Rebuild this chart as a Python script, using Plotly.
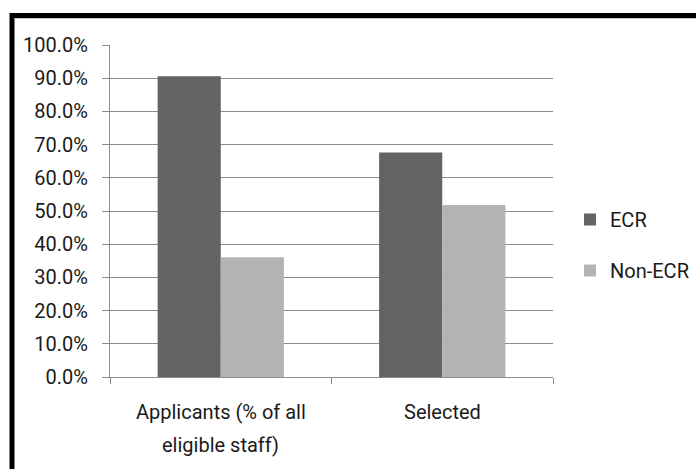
import plotly.graph_objects as go

# Share of staff by career stage
categories = ["Applicants (% of all<br>eligible staff)", "Selected"]
series_names = ["ECR", "Non-ECR"]
ecr_values = [0.906, 0.676]
non_ecr_values = [0.361, 0.518]
y_ticks = [i / 10 for i in range(11)]

colors = {"ECR": "#636363", "Non-ECR": "#b3b3b3"}
font_family = "Liberation Sans Narrow, Roboto, sans-serif"
text_color = "#1a1a1a"
grid_color = "#8c8c8c"

W, H = 696, 469
L, R, T, B = 110, 143, 45, 92
plot_w = W - L - R
plot_h = H - T - B


def px_x(px):
    return (px - L) / plot_w


def px_y(py):
    return (H - B - py) / plot_h


fig = go.Figure()
for name, vals in zip(series_names, [ecr_values, non_ecr_values]):
    fig.add_trace(go.Bar(
        x=categories, y=vals, name=name, legendgroup=name,
        marker=dict(color=colors[name], line=dict(width=0)),
    ))

# category labels, one annotation per line so the line spacing stays open
annotations = []
for cat in categories:
    for i, line in enumerate(cat.split("<br>")):
        annotations.append(dict(
            x=cat, xref="x", y=0, yref="paper",
            text=line, showarrow=False,
            xanchor="center", yanchor="middle",
            yshift=-(35 + 33 * i),
            font=dict(size=20, color=text_color),
        ))

fig.update_layout(
    width=W, height=H,
    margin=dict(l=L, r=R, t=T, b=B, pad=0, autoexpand=False),
    paper_bgcolor="white", plot_bgcolor="white",
    barmode="group", bargap=0.43, bargroupgap=0,
    font=dict(family=font_family, size=20, color=text_color),
    showlegend=True,
    legend=dict(
        x=px_x(570), xanchor="left",
        y=px_y(200), yanchor="top",
        traceorder="grouped", tracegroupgap=22,
        font=dict(size=20, color=text_color),
        bgcolor="rgba(0,0,0,0)",
    ),
    xaxis=dict(
        showline=True, linecolor=grid_color, linewidth=1,
        ticks="outside", tickson="boundaries", ticklen=6,
        tickcolor=grid_color, showgrid=False,
        showticklabels=False,
    ),
    yaxis=dict(
        range=[0, 1], tickvals=y_ticks, tickformat=".1%",
        showline=True, linecolor=grid_color, linewidth=1,
        showgrid=True, gridcolor=grid_color, gridwidth=1,
        ticks="outside", ticklen=7, tickcolor=grid_color,
        zeroline=False,
        tickfont=dict(size=20, color=text_color),
        ticklabelstandoff=10,
    ),
    annotations=annotations,
    shapes=[
        # heavy frame around the chart, running off the right and bottom edges
        dict(type="rect", xref="paper", yref="paper",
             x0=px_x(12), x1=px_x(720), y0=px_y(500), y1=px_y(15.5),
             line=dict(color="black", width=5), fillcolor="rgba(0,0,0,0)",
             layer="above"),
        dict(type="line", xref="paper", yref="paper",
             x0=px_x(14.5), x1=px_x(720), y0=px_y(18.5), y1=px_y(18.5),
             line=dict(color="#c8c8c8", width=1)),
    ],
)

fig.write_html("out.html")
